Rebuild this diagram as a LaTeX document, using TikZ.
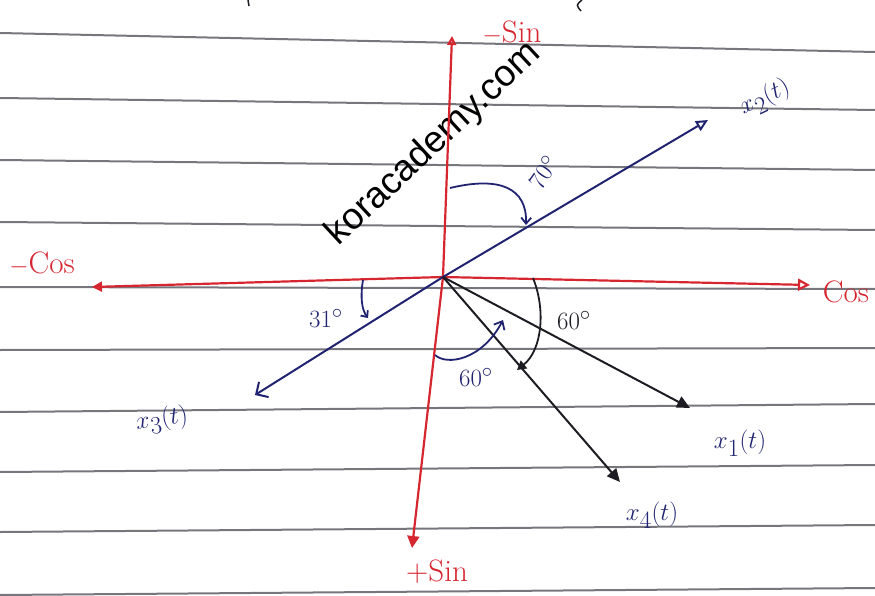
\documentclass[tikz,border=0pt]{standalone}
\usepackage{fontspec}
\newfontfamily\marcafont{Liberation Sans}
\usetikzlibrary{arrows.meta}
\definecolor{rojo}{RGB}{214,38,48}
\definecolor{tinta}{RGB}{32,36,112}
\definecolor{lapiz}{RGB}{28,28,34}
\definecolor{gris}{RGB}{118,118,124}

\begin{document}
\begin{tikzpicture}[x=1pt,y=-1pt,
  every node/.style={font=\fontsize{31}{33}\selectfont, inner sep=1pt},
  eje/.style={draw=rojo, line width=2.2pt},
  vec/.style={line width=2pt},
  arco/.style={line width=1.8pt},
  renglon/.style={draw=gris, line width=2pt}]
\useasboundingbox (0,0) rectangle (875,596);
% renglones del cuaderno
\foreach \a/\b in {33/52, 98/110, 160/170, 222/230, 287/289, 350/348, 412/404, 472/465, 532/525, 595/588}
  \draw[renglon] (0,\a) -- (875,\b);
% restos de escritura arriba
\draw[lapiz, line width=1.5pt] (582,0) .. controls (576,5) .. (581,11);
\draw[lapiz, line width=1.5pt] (248,0) -- (249,6);

% marca de agua
\node[font=\marcafont\fontsize{37}{37}\selectfont, rotate=43] (marca) at (434,144) {koracademy.com};

% puntos
\coordinate (O) at (443,277);
\coordinate (ncos) at (92,287);
\coordinate (pcos) at (810,285);
\coordinate (nsin) at (452,36);
\coordinate (psin) at (412,548);
\coordinate (p1) at (690,408);
\coordinate (p2) at (708,120);
\coordinate (p3) at (255,395);
\coordinate (p4) at (620,482);

% ejes
\draw[eje, -{Triangle[open, length=12pt, width=12pt]}] (O) -- (pcos);
\draw[eje, -{Triangle[length=10pt, width=10pt]}] (O) -- (ncos);
\draw[eje, -{Triangle[open, length=9pt, width=9pt]}] (O) -- (nsin);
\draw[eje, -{Triangle[length=12pt, width=12pt]}] (O) -- (psin);
\node[text=rojo] (lncos) at (42,264) {$-$Cos};
\node[text=rojo] (lcos) at (846,292) {Cos};
\node[text=rojo] (lnsin) at (512,33) {$-$Sin};
\node[text=rojo] (lpsin) at (437,572) {+Sin};

% vectores
\draw[vec, tinta, -{Triangle[open, length=12pt, width=11pt]}] (O) -- (p2);
\draw[vec, tinta, -{Straight Barb[length=9pt, width=18pt]}] (O) -- (p3);
\draw[vec, lapiz, -{Triangle[length=13pt, width=12pt]}] (O) -- (p1);
\draw[vec, lapiz, -{Triangle[length=13pt, width=12pt]}] (O) -- (p4);
\node[text=tinta, rotate=25, font=\fontsize{36}{38}\selectfont] (l2) at (765,98) {$x_2(t)$};
\node[text=tinta, rotate=8, font=\fontsize{36}{38}\selectfont] (l3) at (162,420) {$x_3(t)$};
\node[text=tinta, font=\fontsize{36}{38}\selectfont] (l1) at (740,443) {$x_1(t)$};
\node[text=tinta, font=\fontsize{34}{36}\selectfont] (l4) at (652,515) {$x_4(t)$};

% angulos
\coordinate (a70) at (450,188);
\coordinate (b70) at (526,225);
\draw[arco, tinta, -{Straight Barb[length=6pt, width=10pt]}] (a70) .. controls (500,176) and (527,188) .. (b70);
\node[text=tinta, rotate=55] (t70) at (543,172) {$70^\circ$};

\coordinate (a31) at (363,280);
\coordinate (b31) at (368,318);
\draw[arco, tinta, -{Straight Barb[length=5pt, width=9pt]}] (a31) .. controls (360,298) and (362,310) .. (b31);
\node[text=tinta] (t31) at (326,318) {$31^\circ$};

\coordinate (a60) at (435,355);
\coordinate (b60) at (503,320);
\draw[arco, tinta, -{Straight Barb[length=7pt, width=12pt]}] (a60) .. controls (447,366) and (482,360) .. (b60);
\node[text=tinta] (t60) at (476,377) {$60^\circ$};

\coordinate (c60) at (533,278);
\coordinate (d60) at (517,370);
\draw[arco, lapiz, -{Triangle[length=9pt, width=10pt]}] (c60) .. controls (546,310) and (542,350) .. (d60);
\node[text=lapiz] (u60) at (574,320) {$60^\circ$};
\end{tikzpicture}
\end{document}
